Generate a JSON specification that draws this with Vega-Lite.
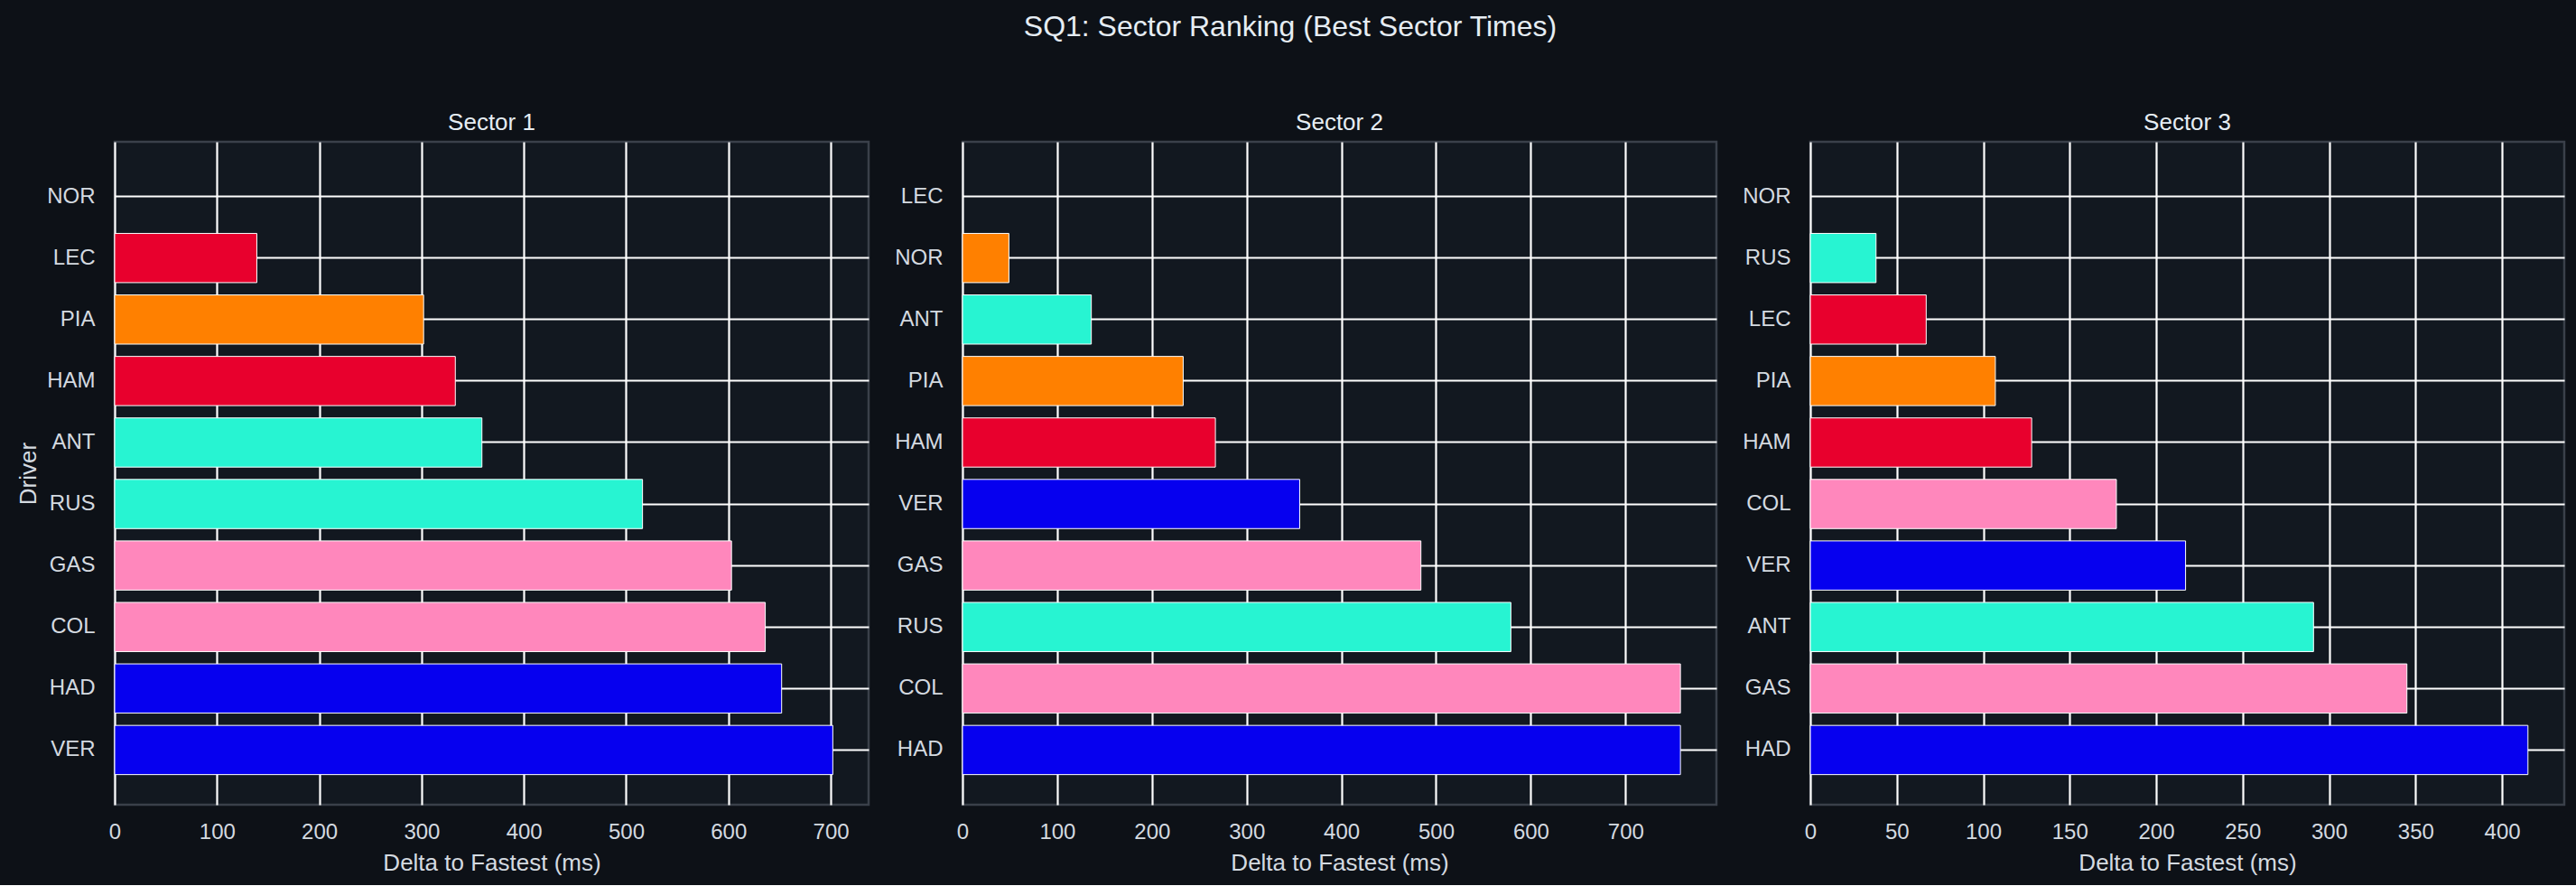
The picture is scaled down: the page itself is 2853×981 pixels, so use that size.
{
  "$schema": "https://vega.github.io/schema/vega-lite/v6.json",
  "background": "#0d1117",
  "padding": {"left": 16, "top": 13, "right": 14, "bottom": 10},
  "title": {
    "text": "SQ1: Sector Ranking (Best Sector Times)",
    "anchor": "middle",
    "fontSize": 32,
    "fontWeight": "normal",
    "color": "#e6edf3",
    "offset": 75
  },
  "data": {
    "values": [
      {"sector": "Sector 1", "driver": "NOR", "team": "McLaren", "delta": 0},
      {"sector": "Sector 1", "driver": "LEC", "team": "Ferrari", "delta": 139},
      {"sector": "Sector 1", "driver": "PIA", "team": "McLaren", "delta": 302},
      {"sector": "Sector 1", "driver": "HAM", "team": "Ferrari", "delta": 333},
      {"sector": "Sector 1", "driver": "ANT", "team": "Mercedes", "delta": 359},
      {"sector": "Sector 1", "driver": "RUS", "team": "Mercedes", "delta": 516},
      {"sector": "Sector 1", "driver": "GAS", "team": "Alpine", "delta": 603},
      {"sector": "Sector 1", "driver": "COL", "team": "Alpine", "delta": 636},
      {"sector": "Sector 1", "driver": "HAD", "team": "Red Bull", "delta": 652},
      {"sector": "Sector 1", "driver": "VER", "team": "Red Bull", "delta": 702},
      {"sector": "Sector 2", "driver": "LEC", "team": "Ferrari", "delta": 0},
      {"sector": "Sector 2", "driver": "NOR", "team": "McLaren", "delta": 49},
      {"sector": "Sector 2", "driver": "ANT", "team": "Mercedes", "delta": 136},
      {"sector": "Sector 2", "driver": "PIA", "team": "McLaren", "delta": 233},
      {"sector": "Sector 2", "driver": "HAM", "team": "Ferrari", "delta": 267},
      {"sector": "Sector 2", "driver": "VER", "team": "Red Bull", "delta": 356},
      {"sector": "Sector 2", "driver": "GAS", "team": "Alpine", "delta": 484},
      {"sector": "Sector 2", "driver": "RUS", "team": "Mercedes", "delta": 579},
      {"sector": "Sector 2", "driver": "COL", "team": "Alpine", "delta": 758},
      {"sector": "Sector 2", "driver": "HAD", "team": "Red Bull", "delta": 758},
      {"sector": "Sector 3", "driver": "NOR", "team": "McLaren", "delta": 0},
      {"sector": "Sector 3", "driver": "RUS", "team": "Mercedes", "delta": 38},
      {"sector": "Sector 3", "driver": "LEC", "team": "Ferrari", "delta": 67},
      {"sector": "Sector 3", "driver": "PIA", "team": "McLaren", "delta": 107},
      {"sector": "Sector 3", "driver": "HAM", "team": "Ferrari", "delta": 128},
      {"sector": "Sector 3", "driver": "COL", "team": "Alpine", "delta": 177},
      {"sector": "Sector 3", "driver": "VER", "team": "Red Bull", "delta": 217},
      {"sector": "Sector 3", "driver": "ANT", "team": "Mercedes", "delta": 291},
      {"sector": "Sector 3", "driver": "GAS", "team": "Alpine", "delta": 345},
      {"sector": "Sector 3", "driver": "HAD", "team": "Red Bull", "delta": 415}
    ]
  },
  "bounds": "flush",
  "spacing": 104,
  "hconcat": [
    {
      "title": "Sector 1",
      "width": 835,
      "height": 734,
      "transform": [{"filter": "datum.sector === 'Sector 1'"}],
      "mark": {"type": "bar", "stroke": "#ffffff", "strokeWidth": 1},
      "encoding": {
        "y": {
          "field": "driver",
          "type": "nominal",
          "sort": ["NOR", "LEC", "PIA", "HAM", "ANT", "RUS", "GAS", "COL", "HAD", "VER"],
          "scale": {"paddingInner": 0.2, "paddingOuter": 0.49},
          "axis": {"title": "Driver", "titleX": -88, "titleY": 367, "titleAngle": 270, "titleBaseline": "alphabetic", "titleAlign": "center"}
        },
        "x": {
          "field": "delta",
          "type": "quantitative",
          "scale": {"domain": [0, 737], "nice": false},
          "axis": {"values": [0, 100, 200, 300, 400, 500, 600, 700], "title": "Delta to Fastest (ms)"}
        },
        "color": {
          "field": "team",
          "type": "nominal",
          "scale": {"domain": ["Ferrari", "McLaren", "Mercedes", "Alpine", "Red Bull"], "range": ["#e8002d", "#ff8000", "#27f4d2", "#ff87bc", "#0600ef"]},
          "legend": null
        },
        "strokeOpacity": {"condition": {"test": "datum.delta == 0", "value": 0}, "value": 1}
      }
    },
    {
      "title": "Sector 2",
      "width": 835,
      "height": 734,
      "transform": [{"filter": "datum.sector === 'Sector 2'"}],
      "mark": {"type": "bar", "stroke": "#ffffff", "strokeWidth": 1},
      "encoding": {
        "y": {
          "field": "driver",
          "type": "nominal",
          "sort": ["LEC", "NOR", "ANT", "PIA", "HAM", "VER", "GAS", "RUS", "COL", "HAD"],
          "scale": {"paddingInner": 0.2, "paddingOuter": 0.49},
          "axis": {"title": null}
        },
        "x": {
          "field": "delta",
          "type": "quantitative",
          "scale": {"domain": [0, 796], "nice": false},
          "axis": {"values": [0, 100, 200, 300, 400, 500, 600, 700], "title": "Delta to Fastest (ms)"}
        },
        "color": {
          "field": "team",
          "type": "nominal",
          "scale": {"domain": ["Ferrari", "McLaren", "Mercedes", "Alpine", "Red Bull"], "range": ["#e8002d", "#ff8000", "#27f4d2", "#ff87bc", "#0600ef"]},
          "legend": null
        },
        "strokeOpacity": {"condition": {"test": "datum.delta == 0", "value": 0}, "value": 1}
      }
    },
    {
      "title": "Sector 3",
      "width": 835,
      "height": 734,
      "transform": [{"filter": "datum.sector === 'Sector 3'"}],
      "mark": {"type": "bar", "stroke": "#ffffff", "strokeWidth": 1},
      "encoding": {
        "y": {
          "field": "driver",
          "type": "nominal",
          "sort": ["NOR", "RUS", "LEC", "PIA", "HAM", "COL", "VER", "ANT", "GAS", "HAD"],
          "scale": {"paddingInner": 0.2, "paddingOuter": 0.49},
          "axis": {"title": null}
        },
        "x": {
          "field": "delta",
          "type": "quantitative",
          "scale": {"domain": [0, 436], "nice": false},
          "axis": {"values": [0, 50, 100, 150, 200, 250, 300, 350, 400], "title": "Delta to Fastest (ms)"}
        },
        "color": {
          "field": "team",
          "type": "nominal",
          "scale": {"domain": ["Ferrari", "McLaren", "Mercedes", "Alpine", "Red Bull"], "range": ["#e8002d", "#ff8000", "#27f4d2", "#ff87bc", "#0600ef"]},
          "legend": null
        },
        "strokeOpacity": {"condition": {"test": "datum.delta == 0", "value": 0}, "value": 1}
      }
    }
  ],
  "resolve": {"scale": {"x": "independent", "y": "independent"}},
  "config": {
    "font": "Liberation Sans",
    "view": {"fill": "#121820", "stroke": "#3a404a", "strokeWidth": 2.5},
    "axis": {
      "domain": false,
      "ticks": false,
      "grid": true,
      "gridColor": "#ffffff",
      "gridWidth": 2.2,
      "gridOpacity": 1,
      "labelColor": "#d4dae0",
      "labelFontSize": 24,
      "labelFont": "Liberation Sans",
      "titleColor": "#d4dae0",
      "titleFontSize": 26,
      "titleFontWeight": "normal",
      "titleFont": "Liberation Sans"
    },
    "axisY": {"labelPadding": 22, "bandPosition": 0.5},
    "axisX": {"labelPadding": 18, "titlePadding": 9, "labelFlush": false},
    "title": {"fontSize": 26, "fontWeight": "normal", "color": "#e6edf3", "offset": 8, "font": "Liberation Sans"}
  }
}
